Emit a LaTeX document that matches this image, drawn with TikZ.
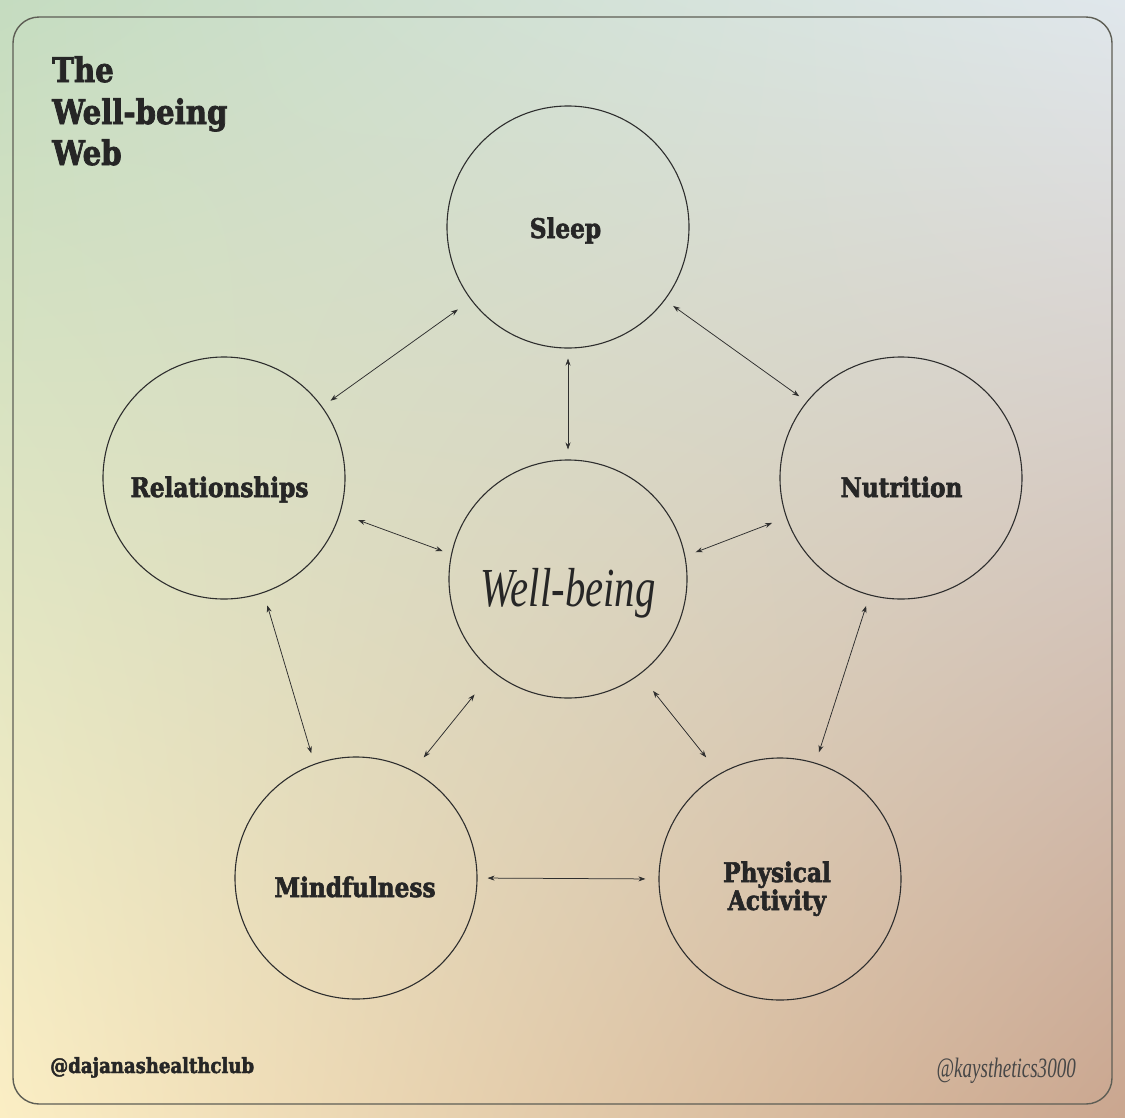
\documentclass[tikz,border=0pt]{standalone}
\usepackage{fontspec}
\usetikzlibrary{arrows.meta,shadings}
\newfontfamily\heavyfont{DejaVu Serif}[FakeStretch=0.86, BoldFeatures={FakeBold=2.2}]
\newfontfamily\italfont{Liberation Serif}[FakeStretch=0.74]
\newfontfamily\signfont{Liberation Serif}[FakeStretch=0.68]
\definecolor{cTL}{HTML}{C5DCC0}
\definecolor{cTR}{HTML}{E0E7EC}
\definecolor{cBL}{HTML}{FBEEC4}
\definecolor{cBR}{HTML}{CAA68F}
\definecolor{ink}{HTML}{262626}
\definecolor{linec}{HTML}{2E2E2E}
\definecolor{framec}{HTML}{5E5E55}
\tikzset{
  circ/.style={circle, draw=linec, line width=1.1pt, minimum size=242pt, inner sep=0pt},
  lbl/.style={anchor=base, text=ink, inner sep=0pt, font=\heavyfont\bfseries\fontsize{27}{28}\selectfont},
  ttl/.style={anchor=base west, text=ink, inner sep=0pt, font=\heavyfont\bfseries\fontsize{34}{40}\selectfont},
  link/.style={{Stealth[length=7pt,width=5pt]}-{Stealth[length=7pt,width=5pt]}, line width=0.75pt, draw=linec}
}
\begin{document}
\begin{tikzpicture}[x=1pt,y=-1pt]
\useasboundingbox (0,0) rectangle (1125,1117);
\shade[upper left=cTL, upper right=cTR, lower left=cBL, lower right=cBR] (0,0) rectangle (1125,1117);
\draw[framec, line width=1.4pt, rounded corners=26pt] (13,17) rectangle (1112,1104);

% title
\node[ttl] (title1) at (52,82) {The};
\node[ttl] (title2) at (52,124) {Well-being};
\node[ttl] (title3) at (52,165) {Web};

% circles
\node[circ] (sleep) at (568,227) {};
\node[circ] (rel) at (224,478) {};
\node[circ] (nut) at (901,478) {};
\node[circ, minimum size=238pt] (well) at (568,579) {};
\node[circ] (mind) at (356,878) {};
\node[circ] (phys) at (780,879) {};

% labels
\node[lbl] (sleepL) at (565.5,238) {Sleep};
\node[lbl] (relL) at (219.5,497) {Relationships};
\node[lbl] (nutL) at (901.5,497) {Nutrition};
\node[lbl] (mindL) at (355,897) {Mindfulness};
\node[lbl] (physL) at (777,882) {Physical};
\node[lbl] (actL) at (777,910) {Activity};
\node[anchor=base, text=ink, inner sep=0pt, font=\italfont\itshape\fontsize{55}{60}\selectfont] (wellL) at (568,606) {Well-being};

% connectors
\draw[link, shorten <=10pt, shorten >=16pt] (rel.36.6) -- (sleep.-143.9);
\draw[link, shorten <=10pt, shorten >=9pt] (sleep.-37.6) -- (nut.141.9);
\draw[link, shorten <=10pt, shorten >=10pt] (sleep.-90) -- (well.90);
\draw[link, shorten <=19pt, shorten >=9pt] (rel.-17.4) -- (well.168.4);
\draw[link, shorten <=15pt, shorten >=11pt] (nut.-161.2) -- (well.11.8);
\draw[link, shorten <=13pt, shorten >=11pt] (rel.-71.3) -- (mind.110);
\draw[link, shorten <=11pt, shorten >=11pt] (nut.-105.4) -- (phys.73.2);
\draw[link, shorten <=29pt, shorten >=17pt] (well.-129.8) -- (mind.62.3);
\draw[link, shorten <=21pt, shorten >=21pt] (well.-53.4) -- (phys.120.5);
\draw[link, shorten <=10pt, shorten >=13pt] (mind.0) -- (phys.180);

% handles
\node[anchor=base west, text=ink, inner sep=0pt, font=\heavyfont\bfseries\fontsize{21}{24}\selectfont] (handleL) at (50,1073) {@dajanashealthclub};
\node[anchor=base east, text=ink!85, inner sep=0pt, font=\signfont\itshape\fontsize{28}{30}\selectfont] (handleR) at (1076,1077) {@kaysthetics3000};
\end{tikzpicture}
\end{document}
